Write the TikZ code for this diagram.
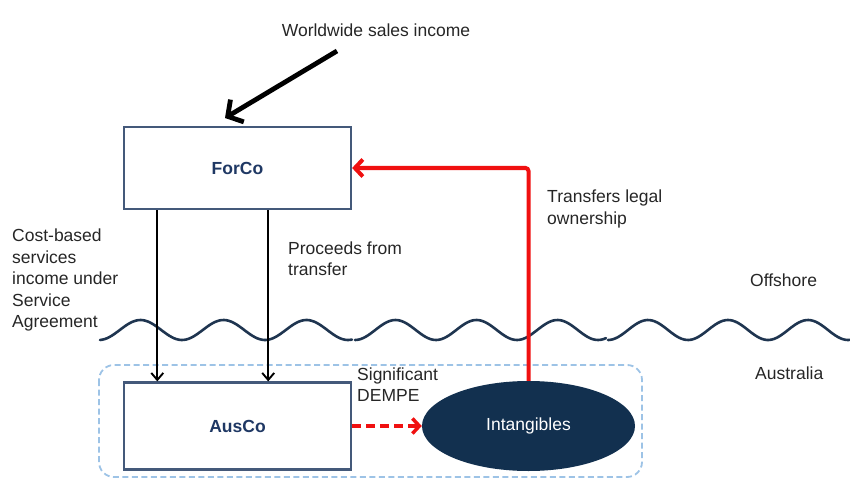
\documentclass[tikz,border=0pt]{standalone}
\usepackage{fontspec}
\setmainfont{Liberation Sans}
\usetikzlibrary{arrows.meta,calc,shapes.geometric}
\definecolor{txt}{HTML}{262626}
\definecolor{navy}{HTML}{1F3864}
\definecolor{boxline}{HTML}{44597A}
\definecolor{ellfill}{HTML}{12304F}
\definecolor{waveline}{HTML}{1F3550}
\definecolor{regionline}{HTML}{9DC3E6}
\definecolor{redline}{HTML}{F01010}
\tikzset{
  lbl/.style={inner sep=0pt, text=txt, align=left, font=\fontsize{17.5}{21.5}\selectfont},
  entity/.style={draw=boxline, line width=2.2pt, fill=white, minimum width=227pt, inner sep=0pt,
                 text=navy, font=\fontsize{17.5}{21}\selectfont\bfseries},
  flowarrow/.style={draw=black, line width=1.9pt, -{Straight Barb[length=7pt,width=12pt,line width=1.9pt]}},
  bigarrow/.style={draw=black, line width=4.8pt, -{Straight Barb[length=11pt,width=26pt,line width=4.8pt]}},
  redarrow/.style={draw=redline, line width=4pt, rounded corners=3pt, -{Straight Barb[length=8pt,width=17pt,line width=4pt]}},
  reddash/.style={draw=redline, line width=3.5pt, dash pattern=on 9pt off 5pt, -{Straight Barb[length=7pt,width=15pt,line width=3.5pt]}},
  wave/.style={draw=waveline, line width=2.6pt, line cap=round},
}
\begin{document}
\begin{tikzpicture}[x=1pt,y=-1pt]
\useasboundingbox (0,0) rectangle (850,481);
% region
\draw[regionline, line width=1.8pt, dash pattern=on 6pt off 3.5pt, rounded corners=15pt] (99,365) rectangle (642,477);
% waves
\draw[wave] plot[domain=100:265, samples=70, smooth] (\x, {330+10*cos((\x-99)/83*360)});
\draw[wave] plot[domain=265:352, samples=40, smooth] (\x, {330+10*cos((\x-265)/83*360)});
\draw[wave] plot[domain=355:606, samples=100, smooth] (\x, {330+10*cos((\x-355)/81*360)});
\draw[wave] plot[domain=608:850, samples=100, smooth] (\x, {330+10*cos((\x-608)/80*360)});
% nodes
\node[entity, minimum height=82pt] (forco) at (237.5,168) {ForCo};
\node[entity, minimum height=87pt] (ausco) at (237.5,426) {AusCo};
\node[ellipse, fill=ellfill, minimum width=213pt, minimum height=90pt, inner sep=0pt,
      text=white, font=\fontsize{17.5}{21}\selectfont] (intang) at (528.5,426) {Intangibles};
% labels
\node[lbl] (wws) at (376,30) {Worldwide sales income};
\node[lbl, anchor=west] (cost) at (12,280) {Cost-based\\services\\income under\\Service\\Agreement};
\node[lbl, anchor=west] (proc) at (288,258.5) {Proceeds from\\transfer};
\node[lbl, anchor=west] (trans) at (547,209) {Transfers legal\\ownership};
\node[lbl, anchor=west] (off) at (750,280) {Offshore};
\node[lbl, anchor=west] (aus) at (755,373) {Australia};
\node[lbl, anchor=west] (dempe) at (357,384.5) {Significant\\DEMPE};
% connectors
\coordinate (wwsStart) at (337,51);
\coordinate (wwsEnd) at (225,118);
\draw[bigarrow] (wwsStart) -- (wwsEnd);
\draw[flowarrow] ($(forco.south west)!0.15!(forco.south east)$) -- ($(ausco.north west)!0.15!(ausco.north east)$);
\draw[flowarrow] ($(forco.south west)!0.634!(forco.south east)$) -- ($(ausco.north west)!0.634!(ausco.north east)$);
\draw[redarrow] (intang.north) |- (forco.east);
\draw[reddash] (ausco.east) -- (intang.west);
\end{tikzpicture}
\end{document}
